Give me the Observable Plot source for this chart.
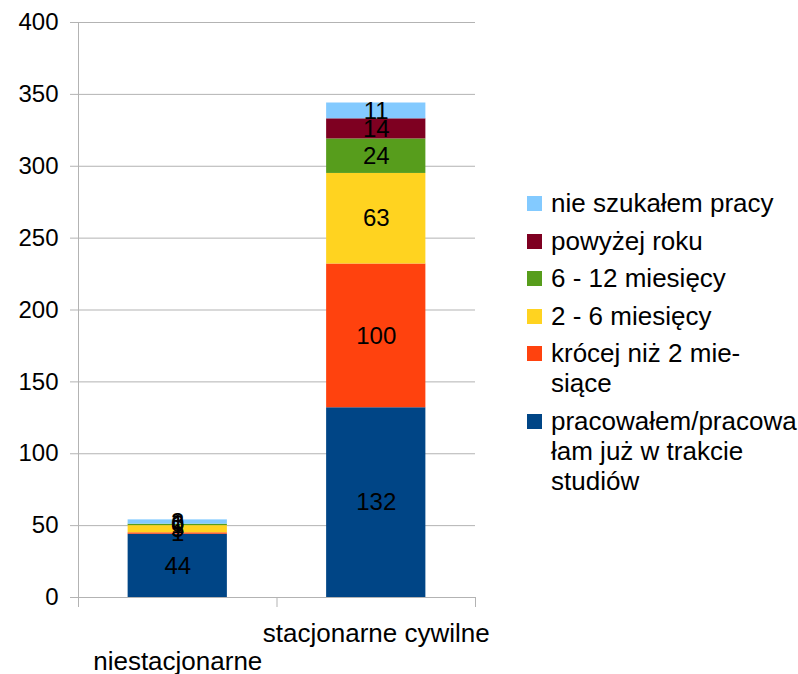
<!DOCTYPE html>
<html>
<head>
<meta charset="utf-8">
<script src="https://cdn.jsdelivr.net/npm/d3@7"></script>
<script src="https://cdn.jsdelivr.net/npm/@observablehq/plot@0.6"></script>
<style>
  body { margin: 0; background: #fff; font-family: "Liberation Sans", Arial, sans-serif; }
  #wrap { position: relative; width: 798px; height: 674px; }
  #legend { position: absolute; left: 527px; top: 188px; font-size: 26px; color: #000; }
  .item { position: relative; padding-left: 24px; line-height: 30px; margin-bottom: 7.5px; white-space: pre; }
  .sw { position: absolute; left: 0; top: 8px; width: 15px; height: 15px; }
</style>
</head>
<body>
<div id="wrap"></div>
<script>
const categories = ["niestacjonarne", "stacjonarne cywilne"];
const series = [
  "pracowałem/pracowałam już w trakcie studiów",
  "krócej niż 2 miesiące",
  "2 - 6 miesięcy",
  "6 - 12 miesięcy",
  "powyżej roku",
  "nie szukałem pracy"
];
const legendLabels = [
  "pracowałem/pracowa\nłam już w trakcie\nstudiów",
  "krócej niż 2 mie-\nsiące",
  "2 - 6 miesięcy",
  "6 - 12 miesięcy",
  "powyżej roku",
  "nie szukałem pracy"
];
const colors = ["#004586", "#ff420e", "#ffd320", "#579d1c", "#7e0021", "#83caff"];
const valuesNiestacjonarne = [44, 1, 5, 1, 0, 3];
const valuesStacjonarne = [132, 100, 63, 24, 14, 11];
const yTicks = [0, 50, 100, 150, 200, 250, 300, 350, 400];

const allValues = [valuesNiestacjonarne, valuesStacjonarne];
const rows = [];
categories.forEach((c, ci) => {
  let acc = 0;
  series.forEach((s, si) => {
    const v = allValues[ci][si];
    rows.push({cat: c, ci, series: s, value: v, y1: acc, y2: acc + v});
    acc += v;
  });
});

const chart = Plot.plot({
  width: 798,
  height: 674,
  marginLeft: 78,
  marginRight: 323,
  marginTop: 22,
  marginBottom: 77,
  style: {fontFamily: "Liberation Sans, Arial, sans-serif", fontSize: "24px", background: "#fff", color: "#000"},
  x: {domain: [0, categories.length], axis: null},
  y: {domain: [0, 400], axis: null},
  color: {domain: series, range: colors},
  marks: [
    Plot.ruleY(yTicks, {x1: 0, x2: categories.length, stroke: "#b3b3b3", strokeWidth: 1}),
    Plot.axisY({ticks: yTicks, tickSize: 8, tickPadding: 12, stroke: "#b3b3b3", strokeOpacity: 1, fill: "#000", label: null, fontSize: 24}),
    Plot.axisX({ticks: d3.range(categories.length + 1), tickSize: 10, tickFormat: () => "", stroke: "#b3b3b3", strokeOpacity: 1, label: null}),
    Plot.ruleX([0], {y1: 0, y2: 400, stroke: "#b3b3b3"}),
    Plot.rect(rows, {x1: d => d.ci + 0.25, x2: d => d.ci + 0.75, y1: "y1", y2: "y2", fill: "series"}),
    Plot.text(rows, {x: d => d.ci + 0.5, y: d => (d.y1 + d.y2) / 2, text: d => String(d.value), fill: "#000", fontSize: 24}),
    Plot.text(categories, {filter: (d, i) => i % 2 === 1, x: d => categories.indexOf(d) + 0.5, y: 0, dy: 36, text: d => d, fill: "#000", fontSize: 26}),
    Plot.text(categories, {filter: (d, i) => i % 2 === 0, x: d => categories.indexOf(d) + 0.5, y: 0, dy: 64, text: d => d, fill: "#000", fontSize: 26})
  ]
});

const wrap = document.getElementById("wrap");
wrap.appendChild(chart);

const legend = document.createElement("div");
legend.id = "legend";
for (let i = series.length - 1; i >= 0; i--) {
  const item = document.createElement("div");
  item.className = "item";
  const sw = document.createElement("span");
  sw.className = "sw";
  sw.style.background = colors[i];
  item.appendChild(sw);
  item.appendChild(document.createTextNode(legendLabels[i]));
  legend.appendChild(item);
}
wrap.appendChild(legend);
</script>
</body>
</html>
